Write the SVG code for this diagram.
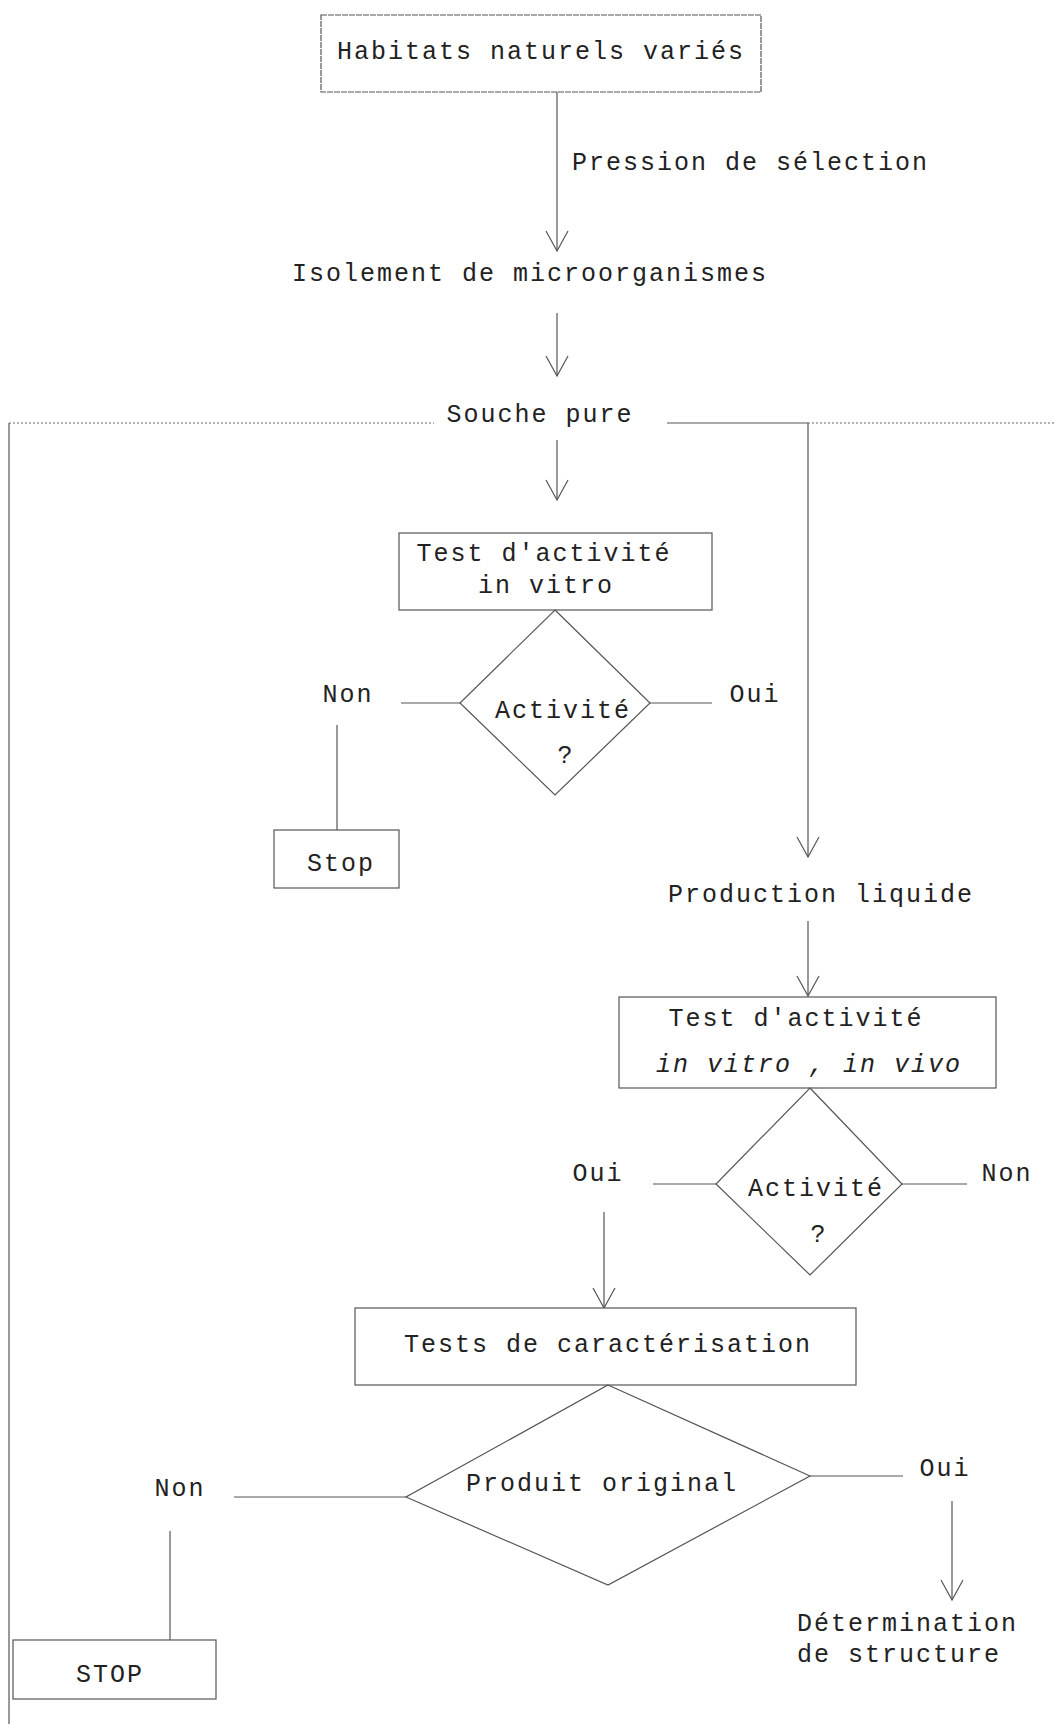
<svg xmlns="http://www.w3.org/2000/svg" width="1054" height="1724" viewBox="0 0 1054 1724">
<defs>
<style>
.t{font-family:"Liberation Mono","DejaVu Sans Mono",monospace;font-size:25px;letter-spacing:2px;fill:#222;}
.i{font-style:italic;}
.b{fill:#fff;stroke:#555;stroke-width:1.2;}
.c{fill:none;stroke:#555;stroke-width:1.2;}
.d{fill:none;stroke:#666;stroke-width:1.2;stroke-dasharray:2 2;}
</style>
<marker id="v" viewBox="0 0 22 24" refX="21" refY="12" markerWidth="22" markerHeight="24" markerUnits="userSpaceOnUse" orient="auto">
<path d="M1 1 L21 12 L1 23" fill="none" stroke="#555" stroke-width="1.2"/>
</marker>
</defs>
<rect width="1054" height="1724" fill="#fff"/>
<g id="connectors">
<line class="c" x1="557" y1="92" x2="557" y2="251" marker-end="url(#v)"/>
<line class="c" x1="557" y1="313" x2="557" y2="376" marker-end="url(#v)"/>
<line class="d" x1="9" y1="423" x2="434" y2="423"/>
<line class="c" x1="9" y1="423" x2="9" y2="1724"/>
<line class="c" x1="667" y1="423" x2="808" y2="423"/>
<line class="d" x1="808" y1="423" x2="1054" y2="423"/>
<line class="c" x1="808" y1="423" x2="808" y2="857" marker-end="url(#v)"/>
<line class="c" x1="557" y1="440" x2="557" y2="500" marker-end="url(#v)"/>
<line class="c" x1="401" y1="703" x2="460" y2="703"/>
<line class="c" x1="337" y1="725" x2="337" y2="830"/>
<line class="c" x1="650" y1="703" x2="712" y2="703"/>
<line class="c" x1="808" y1="921" x2="808" y2="996" marker-end="url(#v)"/>
<line class="c" x1="653" y1="1184" x2="716" y2="1184"/>
<line class="c" x1="902" y1="1184" x2="967" y2="1184"/>
<line class="c" x1="604" y1="1212" x2="604" y2="1308" marker-end="url(#v)"/>
<line class="c" x1="234" y1="1497" x2="406" y2="1497"/>
<line class="c" x1="170" y1="1531" x2="170" y2="1640"/>
<line class="c" x1="810" y1="1476" x2="903" y2="1476"/>
<line class="c" x1="952" y1="1501" x2="952" y2="1600" marker-end="url(#v)"/>
</g>
<g id="habitats">
<rect class="b" x="321" y="15" width="440" height="77" stroke-dasharray="6 1"/>
<text class="t" x="541" y="59" text-anchor="middle">Habitats naturels variés</text>
</g>
<g id="pression"><text class="t" x="572" y="170">Pression de sélection</text></g>
<g id="isolement"><text class="t" x="530" y="281" text-anchor="middle">Isolement de microorganismes</text></g>
<g id="souche"><text class="t" x="540" y="422" text-anchor="middle">Souche pure</text></g>
<g id="test1">
<rect class="b" x="399" y="533" width="313" height="77"/>
<text class="t" x="544" y="561" text-anchor="middle">Test d'activité</text>
<text class="t" x="546" y="593" text-anchor="middle">in vitro</text>
</g>
<g id="activite1">
<polygon class="b" points="555,610 650,703 555,795 460,703"/>
<text class="t" x="563" y="718" text-anchor="middle">Activité</text>
<text class="t" x="566" y="763" text-anchor="middle">?</text>
</g>
<g id="non1"><text class="t" x="348" y="702" text-anchor="middle">Non</text></g>
<g id="stop1">
<rect class="b" x="274" y="830" width="125" height="58"/>
<text class="t" x="341" y="871" text-anchor="middle">Stop</text>
</g>
<g id="oui1"><text class="t" x="755" y="702" text-anchor="middle">Oui</text></g>
<g id="production"><text class="t" x="821" y="902" text-anchor="middle">Production liquide</text></g>
<g id="test2">
<rect class="b" x="619" y="997" width="377" height="91"/>
<text class="t" x="796" y="1026" text-anchor="middle">Test d'activité</text>
<text class="t i" x="809" y="1072" text-anchor="middle">in vitro , in vivo</text>
</g>
<g id="activite2">
<polygon class="b" points="810,1088 902,1184 810,1275 716,1184"/>
<text class="t" x="816" y="1196" text-anchor="middle">Activité</text>
<text class="t" x="819" y="1242" text-anchor="middle">?</text>
</g>
<g id="oui2"><text class="t" x="598" y="1181" text-anchor="middle">Oui</text></g>
<g id="non2"><text class="t" x="1007" y="1181" text-anchor="middle">Non</text></g>
<g id="tests">
<rect class="b" x="355" y="1308" width="501" height="77"/>
<text class="t" x="608" y="1352" text-anchor="middle">Tests de caractérisation</text>
</g>
<g id="produit">
<polygon class="b" points="608,1385 810,1476 608,1585 406,1497"/>
<text class="t" x="602" y="1491" text-anchor="middle">Produit original</text>
</g>
<g id="non3"><text class="t" x="180" y="1496" text-anchor="middle">Non</text></g>
<g id="stop2">
<rect class="b" x="13" y="1640" width="203" height="59"/>
<text class="t" x="110" y="1682" text-anchor="middle">STOP</text>
</g>
<g id="oui3"><text class="t" x="945" y="1476" text-anchor="middle">Oui</text></g>
<g id="determination">
<text class="t" x="797" y="1631">Détermination</text>
<text class="t" x="797" y="1662">de structure</text>
</g>
</svg>
